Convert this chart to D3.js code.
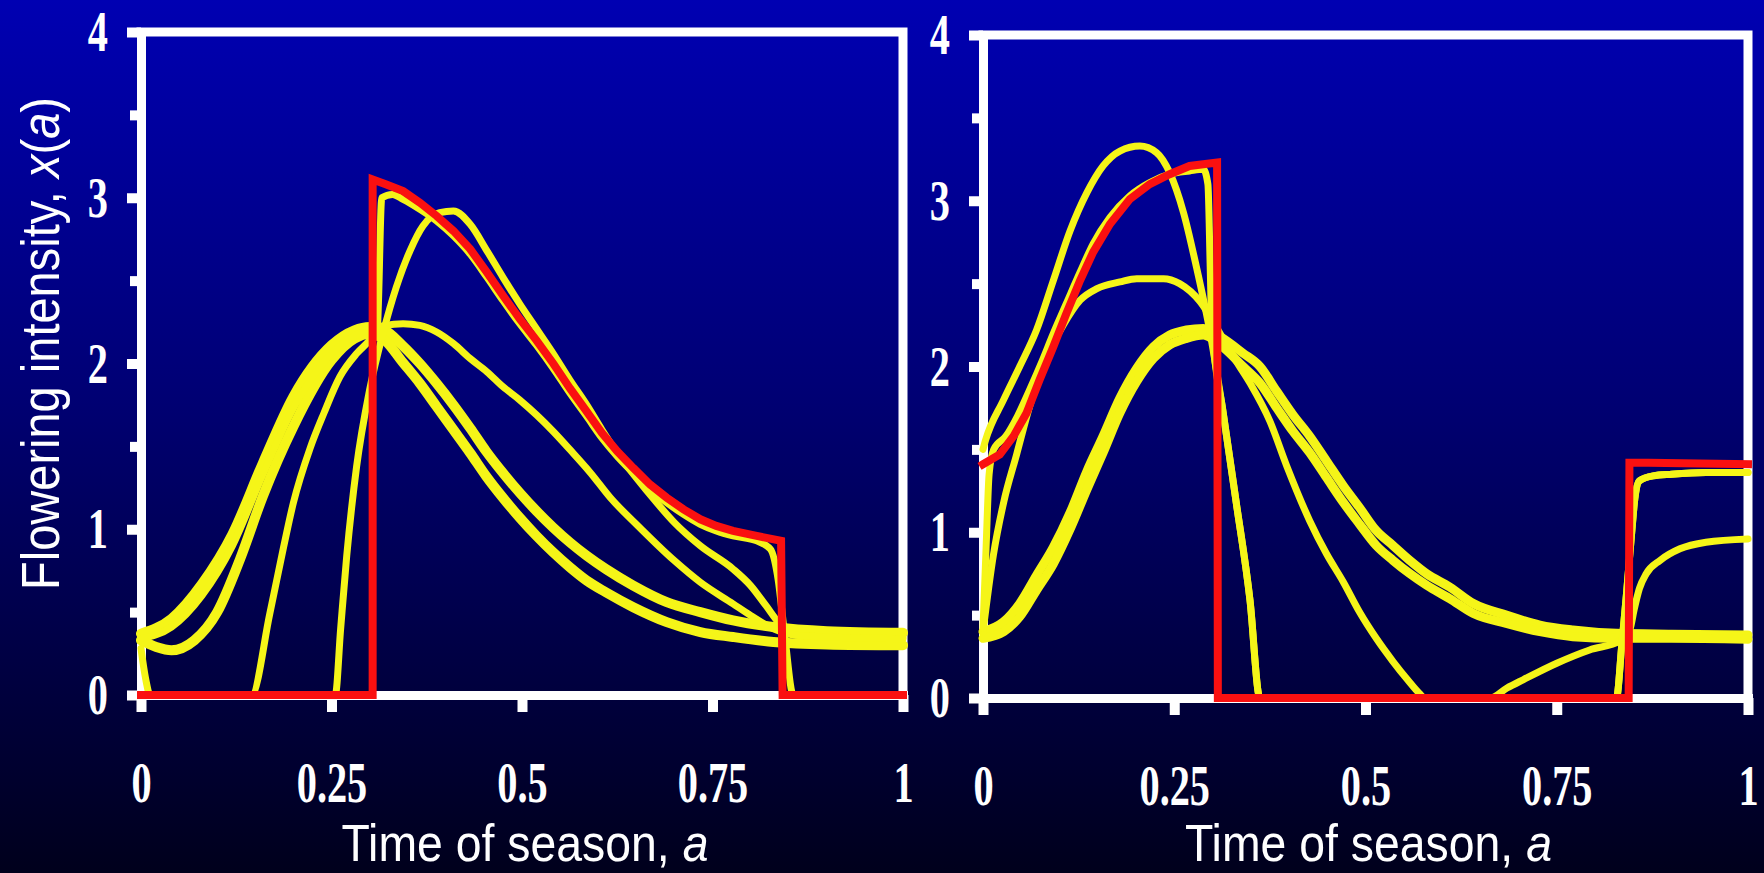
<!DOCTYPE html>
<html>
<head>
<meta charset="utf-8">
<script src="https://cdn.jsdelivr.net/npm/d3@7"></script>
<style>
  html, body { margin: 0; padding: 0; background: #000020; }
  svg { display: block; }
</style>
</head>
<body>
<svg id="chart" width="1764" height="873"></svg>
<script>
// tick values and labels
const xTicks = [0, 0.25, 0.5, 0.75, 1]
const xTickLabels = ['0', '0.25', '0.5', '0.75', '1']
const yMajorTicks = [0, 1, 2, 3, 4]
const yMinorTicks = [0.5, 1.5, 2.5, 3.5]

// left panel series, [a, x(a)]
const leftRed = [[0, 0], [0.304, 0], [0.304, 3.11], [0.322, 3.08], [0.344, 3.04], [0.366, 2.97], [0.388, 2.89], [0.41, 2.8], [0.432, 2.69], [0.454, 2.55], [0.475, 2.41], [0.497, 2.27], [0.519, 2.14], [0.541, 2.0], [0.563, 1.85], [0.585, 1.71], [0.605, 1.58], [0.625, 1.47], [0.646, 1.37], [0.668, 1.27], [0.69, 1.19], [0.712, 1.12], [0.734, 1.06], [0.755, 1.02], [0.777, 0.99], [0.808, 0.96], [0.84, 0.93], [0.842, 0], [1, 0]]
const leftY1 = [[0, 0.37], [0.04, 0.46], [0.08, 0.67], [0.12, 0.97], [0.16, 1.4], [0.2, 1.8], [0.25, 2.11], [0.28, 2.2], [0.3, 2.22], [0.32, 2.2], [0.343, 2.11], [0.366, 2.0], [0.388, 1.88], [0.41, 1.75], [0.432, 1.61], [0.453, 1.47], [0.475, 1.34], [0.497, 1.22], [0.519, 1.11], [0.541, 1.01], [0.563, 0.92], [0.585, 0.84], [0.61, 0.76], [0.646, 0.66], [0.69, 0.56], [0.734, 0.5], [0.777, 0.45], [0.83, 0.41], [0.9, 0.385], [1, 0.375]]
const leftY2 = [[0, 0.33], [0.02, 0.29], [0.04, 0.27], [0.07, 0.33], [0.1, 0.5], [0.13, 0.82], [0.16, 1.2], [0.2, 1.62], [0.25, 2.02], [0.28, 2.15], [0.3, 2.18], [0.32, 2.14], [0.343, 2.01], [0.366, 1.88], [0.388, 1.74], [0.41, 1.6], [0.432, 1.46], [0.453, 1.32], [0.475, 1.19], [0.497, 1.07], [0.519, 0.96], [0.541, 0.86], [0.563, 0.77], [0.585, 0.69], [0.61, 0.62], [0.646, 0.53], [0.69, 0.44], [0.734, 0.38], [0.777, 0.35], [0.83, 0.32], [0.9, 0.305], [1, 0.3]]
const leftY3 = [[0, 0.34], [0.04, 0.41], [0.08, 0.6], [0.12, 0.9], [0.16, 1.33], [0.2, 1.73], [0.25, 2.06], [0.29, 2.19], [0.32, 2.23], [0.344, 2.24], [0.366, 2.23], [0.388, 2.19], [0.41, 2.12], [0.432, 2.03], [0.454, 1.95], [0.475, 1.86], [0.497, 1.78], [0.519, 1.69], [0.541, 1.59], [0.563, 1.48], [0.59, 1.34], [0.616, 1.19], [0.65, 1.03], [0.7, 0.81], [0.734, 0.68], [0.777, 0.55], [0.8, 0.48], [0.83, 0.4], [0.86, 0.36], [0.9, 0.35], [1, 0.35]]
const leftY4 = [[0, 0.28], [0.006, 0.1], [0.012, 0], [0.145, 0], [0.169, 0.49], [0.187, 0.89], [0.2, 1.16], [0.222, 1.49], [0.24, 1.7], [0.261, 1.92], [0.283, 2.06], [0.3, 2.14], [0.31, 2.2], [0.316, 3.0], [0.33, 3.02], [0.344, 2.99], [0.366, 2.93], [0.388, 2.86], [0.41, 2.77], [0.432, 2.66], [0.454, 2.52], [0.475, 2.38], [0.497, 2.24], [0.519, 2.11], [0.541, 1.97], [0.563, 1.82], [0.585, 1.68], [0.605, 1.55], [0.625, 1.44], [0.646, 1.34], [0.668, 1.24], [0.69, 1.16], [0.712, 1.09], [0.734, 1.03], [0.755, 0.99], [0.777, 0.96], [0.808, 0.93], [0.826, 0.88], [0.836, 0.7], [0.845, 0.35], [0.856, 0], [1, 0]]
const leftY5 = [[0, 0], [0.255, 0], [0.262, 0.4], [0.27, 0.84], [0.283, 1.38], [0.3, 1.84], [0.318, 2.19], [0.335, 2.46], [0.353, 2.68], [0.37, 2.83], [0.392, 2.91], [0.41, 2.92], [0.432, 2.84], [0.454, 2.68], [0.475, 2.52], [0.497, 2.36], [0.519, 2.21], [0.541, 2.06], [0.563, 1.9], [0.585, 1.75], [0.605, 1.6], [0.625, 1.46], [0.65, 1.31], [0.675, 1.17], [0.7, 1.04], [0.734, 0.9], [0.777, 0.76], [0.8, 0.66], [0.82, 0.54], [0.84, 0.42], [0.86, 0.36], [0.9, 0.35], [1, 0.34]]

// right panel series
const rightRed = [[0, 1.41], [0.022, 1.47], [0.04, 1.58], [0.057, 1.72], [0.074, 1.92], [0.092, 2.12], [0.109, 2.32], [0.127, 2.52], [0.144, 2.69], [0.166, 2.86], [0.192, 3.01], [0.218, 3.1], [0.244, 3.16], [0.27, 3.21], [0.306, 3.23], [0.307, 0], [0.844, 0], [0.845, 1.42], [0.87, 1.42], [1, 1.41]]
const rightR1 = [[0, 1.5], [0.003, 1.55], [0.027, 1.8], [0.048, 2.0], [0.07, 2.22], [0.092, 2.52], [0.114, 2.82], [0.136, 3.05], [0.157, 3.21], [0.179, 3.3], [0.205, 3.33], [0.227, 3.29], [0.244, 3.17], [0.262, 2.93], [0.279, 2.6], [0.297, 2.2], [0.314, 1.72], [0.331, 1.18], [0.349, 0.59], [0.362, 0], [0.828, 0], [0.835, 0.32], [0.841, 0.62], [0.848, 1.0], [0.852, 1.2], [0.858, 1.31], [0.876, 1.34], [0.9, 1.35], [0.945, 1.36], [1, 1.36]]
const rightR2 = [[0, 0.4], [0.0135, 0.86], [0.027, 1.18], [0.044, 1.47], [0.061, 1.76], [0.083, 2.05], [0.105, 2.25], [0.127, 2.4], [0.149, 2.47], [0.179, 2.51], [0.201, 2.53], [0.236, 2.53], [0.257, 2.5], [0.284, 2.39], [0.301, 2.27], [0.327, 2.06], [0.349, 1.9], [0.375, 1.67], [0.397, 1.4], [0.427, 1.07], [0.449, 0.87], [0.471, 0.7], [0.492, 0.52], [0.514, 0.36], [0.536, 0.22], [0.555, 0.11], [0.57, 0.03], [0.578, 0], [0.663, 0], [0.685, 0.06], [0.706, 0.11], [0.75, 0.21], [0.793, 0.29], [0.833, 0.345], [0.846, 0.42], [0.851, 0.53], [0.858, 0.66], [0.867, 0.75], [0.885, 0.83], [0.911, 0.9], [0.945, 0.94], [1, 0.96]]
const rightR3 = [[0, 0.4], [0.027, 0.46], [0.048, 0.57], [0.07, 0.74], [0.092, 0.91], [0.114, 1.12], [0.136, 1.37], [0.157, 1.58], [0.179, 1.81], [0.201, 1.99], [0.223, 2.12], [0.244, 2.19], [0.266, 2.22], [0.288, 2.23], [0.31, 2.18], [0.34, 2.08], [0.362, 2.0], [0.384, 1.85], [0.405, 1.71], [0.427, 1.58], [0.449, 1.43], [0.471, 1.28], [0.492, 1.15], [0.514, 1.01], [0.536, 0.92], [0.558, 0.83], [0.58, 0.75], [0.61, 0.67], [0.641, 0.57], [0.684, 0.5], [0.728, 0.44], [0.771, 0.41], [0.828, 0.39], [0.9, 0.385], [1, 0.38]]
const rightR4 = [[0, 0.36], [0.027, 0.4], [0.048, 0.49], [0.07, 0.65], [0.092, 0.81], [0.114, 1.02], [0.136, 1.26], [0.157, 1.48], [0.179, 1.72], [0.201, 1.91], [0.223, 2.05], [0.244, 2.13], [0.266, 2.17], [0.288, 2.19], [0.31, 2.13], [0.34, 2.0], [0.362, 1.9], [0.384, 1.75], [0.405, 1.61], [0.427, 1.48], [0.449, 1.33], [0.471, 1.18], [0.492, 1.05], [0.514, 0.92], [0.536, 0.83], [0.558, 0.75], [0.58, 0.68], [0.61, 0.6], [0.641, 0.51], [0.684, 0.45], [0.728, 0.4], [0.771, 0.37], [0.828, 0.36], [0.9, 0.36], [1, 0.355]]
const rightR5 = [[0, 0.42], [0.004, 0.9], [0.008, 1.35], [0.014, 1.5], [0.03, 1.58], [0.045, 1.7], [0.06, 1.85], [0.077, 2.03], [0.092, 2.2], [0.109, 2.38], [0.127, 2.57], [0.144, 2.74], [0.166, 2.9], [0.192, 3.03], [0.218, 3.11], [0.244, 3.16], [0.27, 3.18], [0.288, 3.19], [0.294, 3.1], [0.297, 2.6], [0.299, 2.25], [0.314, 1.72], [0.331, 1.18], [0.349, 0.59], [0.362, 0], [0.828, 0], [0.835, 0.32], [0.841, 0.62], [0.848, 1.0], [0.852, 1.2], [0.858, 1.31], [0.876, 1.34], [0.9, 1.35], [0.945, 1.36], [1, 1.36]]

const YELLOW = '#f5f518'
const RED = '#fa1010'

// panel geometry
const panels = [
  { x0: 141, x1: 903, y0: 695, y4: 32, red: leftRed, yellow: [leftY1, leftY2, leftY3, leftY4, leftY5], widths: [10, 10, 7, 7, 7] },
  { x0: 983, x1: 1748, y0: 698, y4: 35, red: rightRed, yellow: [rightR3, rightR4, rightR2, rightR1, rightR5], widths: [9, 9, 7, 7, 7] }
]

const svg = d3.select('#chart')

const defs = svg.append('defs')
const grad = defs.append('linearGradient')
  .attr('id', 'bg')
  .attr('x1', 0).attr('y1', 0).attr('x2', 0).attr('y2', 1)
grad.append('stop').attr('offset', '0%').attr('stop-color', '#0000b2')
grad.append('stop').attr('offset', '45%').attr('stop-color', '#000074')
grad.append('stop').attr('offset', '100%').attr('stop-color', '#00001c')

svg.append('rect')
  .attr('width', 1764)
  .attr('height', 873)
  .attr('fill', 'url(#bg)')

const tickFont = '"Liberation Serif", "Times New Roman", serif'
const titleFont = '"Liberation Sans", Arial, sans-serif'

// lays out text pieces side by side in a squeezed group, centred on 0
function squeezedTitle (parent, pieces, size, width) {
  const g = parent.append('g')
  let offset = 0
  const nodes = pieces.map((piece) => {
    const t = g.append('text')
      .attr('fill', '#fff')
      .style('font-family', titleFont)
      .style('font-size', size + 'px')
      .style('font-style', piece.italic ? 'italic' : 'normal')
      .style('white-space', 'pre')
      .text(piece.text)
    const w = t.node().getComputedTextLength()
    t.attr('x', offset)
    offset += w
    return t
  })
  const sx = width / offset
  nodes.forEach(t => t.attr('x', +t.attr('x') - offset / 2))
  return { g, sx }
}

panels.forEach((p) => {
  const x = d3.scaleLinear().domain([0, 1]).range([p.x0, p.x1])
  const y = d3.scaleLinear().domain([0, 4]).range([p.y0, p.y4])
  const g = svg.append('g')

  // top and right frame lines
  g.append('path')
    .attr('d', `M${p.x0},${p.y4}H${p.x1}V${p.y0}`)
    .attr('fill', 'none')
    .attr('stroke', '#fff')
    .attr('stroke-width', 9)
    .attr('stroke-linecap', 'square')

  const yMinor = g.append('g')
    .attr('transform', `translate(${p.x0},0)`)
    .call(d3.axisLeft(y).tickValues(yMinorTicks).tickSize(11).tickSizeOuter(0).tickFormat(''))

  const yMajor = g.append('g')
    .attr('transform', `translate(${p.x0},0)`)
    .call(d3.axisLeft(y).tickValues(yMajorTicks).tickSize(14).tickSizeOuter(0).tickFormat(d3.format('d')))

  const xAxis = g.append('g')
    .attr('transform', `translate(0,${p.y0})`)
    .call(d3.axisBottom(x).tickValues(xTicks).tickSize(17).tickSizeOuter(0)
      .tickFormat((d, i) => xTickLabels[i]))

  ;[yMinor, yMajor, xAxis].forEach((ax) => {
    ax.select('.domain')
      .attr('stroke', '#fff')
      .attr('stroke-width', 9)
      .attr('stroke-linecap', 'square')
    ax.selectAll('.tick line')
      .attr('stroke', '#fff')
      .attr('stroke-width', 10)
  })

  yMajor.selectAll('.tick text')
    .attr('x', 0)
    .attr('dy', null)
    .attr('text-anchor', 'end')
    .attr('transform', 'translate(-33,18.5) scale(0.72,1)')
    .attr('fill', '#fff')
    .style('font-family', tickFont)
    .style('font-weight', 'bold')
    .style('font-size', '56px')

  xAxis.selectAll('.tick text')
    .attr('y', 0)
    .attr('dy', null)
    .attr('text-anchor', 'middle')
    .attr('transform', 'translate(0,107) scale(0.72,1)')
    .attr('fill', '#fff')
    .style('font-family', tickFont)
    .style('font-weight', 'bold')
    .style('font-size', '56px')

  const line = d3.line()
    .x(d => x(d[0]))
    .y(d => y(d[1]))

  p.yellow.forEach((s, i) => {
    g.append('path')
      .datum(s)
      .attr('d', line.curve(d3.curveMonotoneX))
      .attr('fill', 'none')
      .attr('stroke', YELLOW)
      .attr('stroke-width', p.widths[i])
      .attr('stroke-linejoin', 'round')
      .attr('stroke-linecap', 'round')
  })

  g.append('path')
    .datum(p.red)
    .attr('d', line.curve(d3.curveLinear))
    .attr('fill', 'none')
    .attr('stroke', RED)
    .attr('stroke-width', 8)
    .attr('stroke-linejoin', 'miter')
    .attr('stroke-linecap', 'square')

  // x axis title
  const xt = squeezedTitle(g, [{ text: 'Time of season, ' }, { text: 'a', italic: true }], 52, 367)
  xt.g.attr('transform', `translate(${(p.x0 + p.x1) / 2 + 3},861) scale(${xt.sx},1)`)
})

// y axis title
const yt = squeezedTitle(svg, [
  { text: 'Flowering intensity, ' },
  { text: 'x', italic: true },
  { text: '(' },
  { text: 'a', italic: true },
  { text: ')' }
], 54, 493)
yt.g.attr('transform', `translate(59,343.5) rotate(-90) scale(${yt.sx},1)`)
</script>
</body>
</html>
